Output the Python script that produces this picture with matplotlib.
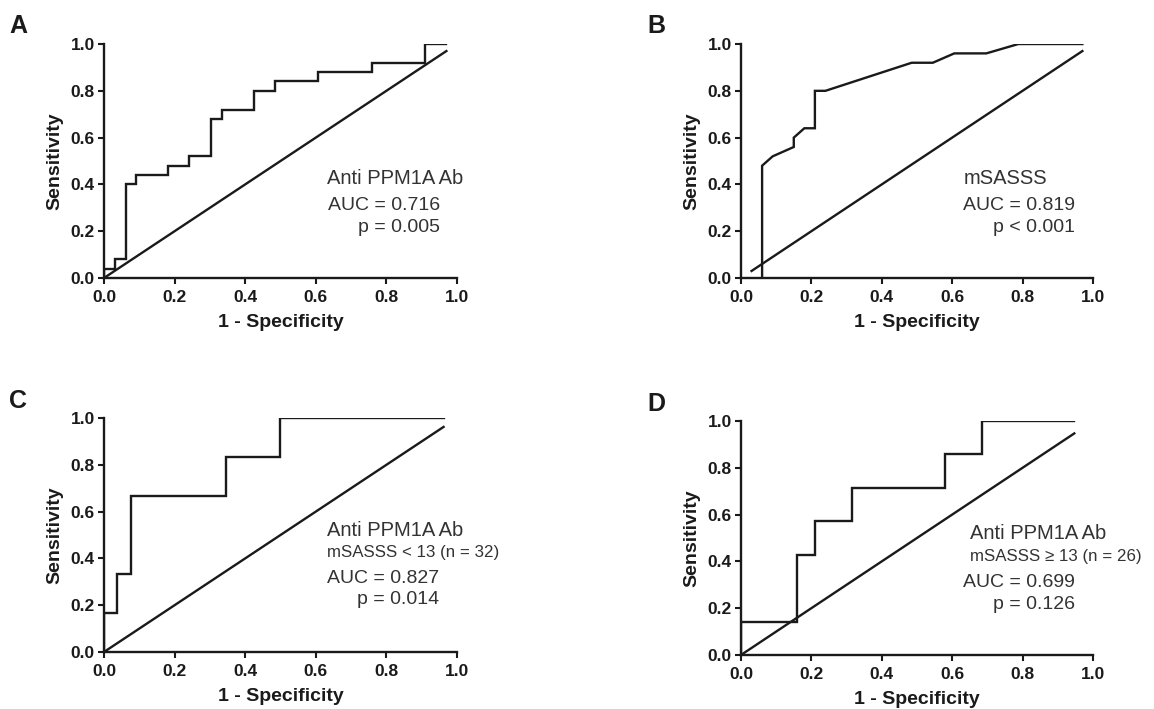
import numpy as np
import matplotlib.pyplot as plt

plt.rcParams['font.family'] = ['Liberation Sans', 'DejaVu Sans']

# ROC curve points (1 - specificity, sensitivity)
a_fpr = [0, 0, 0.03, 0.03, 0.061, 0.061, 0.091, 0.091, 0.182, 0.182, 0.242, 0.242,
         0.303, 0.303, 0.333, 0.333, 0.424, 0.424, 0.485, 0.485, 0.606, 0.606,
         0.758, 0.758, 0.909, 0.909, 0.97]
a_tpr = [0, 0.04, 0.04, 0.08, 0.08, 0.40, 0.40, 0.44, 0.44, 0.48, 0.48, 0.52,
         0.52, 0.68, 0.68, 0.72, 0.72, 0.80, 0.80, 0.84, 0.84, 0.88,
         0.88, 0.92, 0.92, 1.0, 1.0]
a_ref = [0, 0.97]

b_fpr = [0.06, 0.06, 0.09, 0.15, 0.15, 0.18, 0.21, 0.21, 0.24, 0.485, 0.545,
         0.606, 0.697, 0.788, 0.97]
b_tpr = [0, 0.48, 0.52, 0.56, 0.60, 0.64, 0.64, 0.80, 0.80, 0.92, 0.92,
         0.96, 0.96, 1.0, 1.0]
b_ref = [0.03, 0.97]

c_fpr = [0, 0, 0.038, 0.038, 0.077, 0.077, 0.346, 0.346, 0.50, 0.50, 0.962]
c_tpr = [0, 0.167, 0.167, 0.333, 0.333, 0.667, 0.667, 0.833, 0.833, 1.0, 1.0]
c_ref = [0, 0.962]

d_fpr = [0, 0, 0.158, 0.158, 0.21, 0.21, 0.316, 0.316, 0.579, 0.579, 0.684, 0.684, 0.947]
d_tpr = [0, 0.143, 0.143, 0.429, 0.429, 0.571, 0.571, 0.714, 0.714, 0.857, 0.857, 1.0, 1.0]
d_ref = [0, 0.947]

ticks = [0.0, 0.2, 0.4, 0.6, 0.8, 1.0]
tick_labels = ['%.1f' % t for t in ticks]

fig = plt.figure(figsize=(11.54, 7.09), dpi=100)
ink = '#1a1a1a'
txt = '#333333'


def roc_panel(rect, letter, letter_xy, fpr, tpr, ref):
    ax = fig.add_axes(rect)
    ax.plot(fpr, tpr, color=ink, lw=1.7, solid_joinstyle='miter')
    ax.plot(ref, ref, color=ink, lw=1.7)
    ax.set_xlim(0, 1)
    ax.set_ylim(0, 1)
    ax.set_xticks(ticks)
    ax.set_yticks(ticks)
    ax.set_xticklabels(tick_labels, fontweight='bold', fontsize=12.5, color=ink)
    ax.set_yticklabels(tick_labels, fontweight='bold', fontsize=12.5, color=ink)
    ax.spines['top'].set_visible(False)
    ax.spines['right'].set_visible(False)
    for s in ['left', 'bottom']:
        ax.spines[s].set_linewidth(1.7)
        ax.spines[s].set_color(ink)
    ax.tick_params(direction='out', length=4.5, width=1.5, colors=ink)
    ax.tick_params(axis='x', pad=4.5)
    ax.tick_params(axis='y', pad=2)
    ax.set_xlabel('1 - Specificity', fontweight='bold', fontsize=14, color=ink, labelpad=6)
    ax.set_ylabel('Sensitivity', fontweight='bold', fontsize=14, color=ink, labelpad=5)
    fig.text(letter_xy[0] / 1154, 1 - letter_xy[1] / 709, letter, fontweight='bold',
             fontsize=18, color=ink, ha='left', va='top')
    return ax


axA = roc_panel([0.0901, 0.6079, 0.3059, 0.33], 'A', (9, 14), a_fpr, a_tpr, a_ref)
axA.text(0.632, 0.427, 'Anti PPM1A Ab', fontsize=14.5, color=txt, ha='left', va='center')
axA.text(0.952, 0.308, 'AUC = 0.716', fontsize=14, color=txt, ha='right', va='center')
axA.text(0.952, 0.214, 'p = 0.005', fontsize=14, color=txt, ha='right', va='center')

axB = roc_panel([0.6421, 0.6079, 0.3050, 0.33], 'B', (647, 14), b_fpr, b_tpr, b_ref)
axB.text(0.632, 0.427, 'mSASSS', fontsize=14.5, color=txt, ha='left', va='center')
axB.text(0.95, 0.308, 'AUC = 0.819', fontsize=14, color=txt, ha='right', va='center')
axB.text(0.95, 0.214, 'p < 0.001', fontsize=14, color=txt, ha='right', va='center')

axC = roc_panel([0.0901, 0.0804, 0.3059, 0.33], 'C', (9, 389), c_fpr, c_tpr, c_ref)
axC.text(0.632, 0.521, 'Anti PPM1A Ab', fontsize=14.5, color=txt, ha='left', va='center')
axC.text(0.632, 0.425, 'mSASSS < 13 (n = 32)', fontsize=12.2, color=txt, ha='left', va='center')
axC.text(0.95, 0.315, 'AUC = 0.827', fontsize=14, color=txt, ha='right', va='center')
axC.text(0.95, 0.223, 'p = 0.014', fontsize=14, color=txt, ha='right', va='center')

axD = roc_panel([0.6421, 0.0762, 0.3050, 0.33], 'D', (647, 392), d_fpr, d_tpr, d_ref)
axD.text(0.65, 0.521, 'Anti PPM1A Ab', fontsize=14.5, color=txt, ha='left', va='center')
axD.text(0.652, 0.419, 'mSASSS \u2265 13 (n = 26)', fontsize=12.2, color=txt, ha='left', va='center')
axD.text(0.95, 0.308, 'AUC = 0.699', fontsize=14, color=txt, ha='right', va='center')
axD.text(0.95, 0.214, 'p = 0.126', fontsize=14, color=txt, ha='right', va='center')

fig.savefig('out.png', dpi=100)
